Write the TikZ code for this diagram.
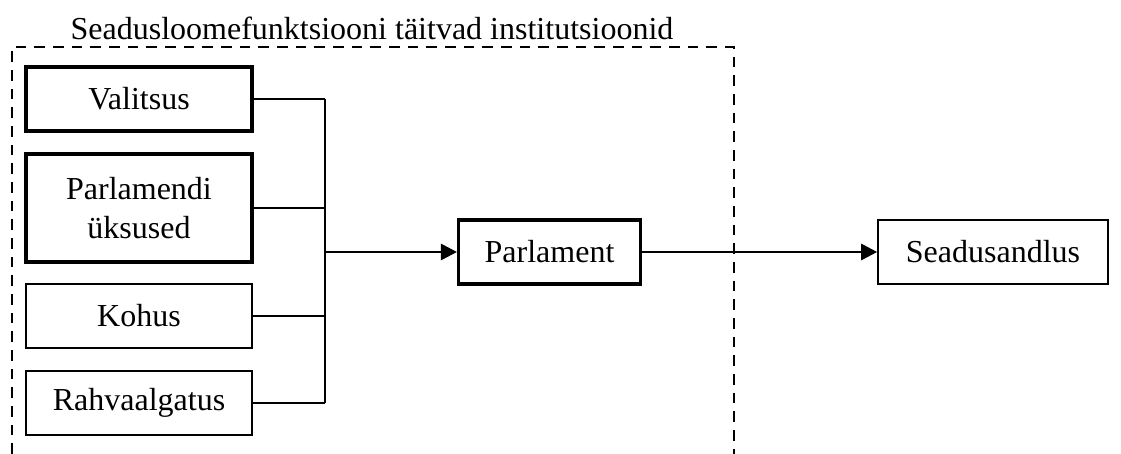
\documentclass[tikz,border=0pt]{standalone}
\usepackage{fontspec}
\setmainfont{Liberation Serif}
\usepackage{tikz}
\usetikzlibrary{arrows.meta}
\tikzstyle{box} = [draw, line width=0.6pt, minimum width=84.75pt, minimum height=24pt, inner sep=0pt, align=center, font=\fontsize{12}{14.5}\selectfont]
\tikzstyle{boldbox} = [box, line width=1.15pt]
\tikzstyle{link} = [line width=0.4pt]
\tikzstyle{arrow} = [line width=1pt, -{Triangle[length=6pt,width=6pt]}]

\begin{document}
\begin{tikzpicture}[x=0.375pt, y=-0.375pt]
\useasboundingbox (0,0) rectangle (1121,454);
% dashed frame round the institutions
\draw[line width=0.85pt, dash pattern=on 4pt off 3pt] (12,454) -- (12,47) -- (734,47) -- (734,454);
\node[anchor=base, font=\fontsize{12}{14.5}\selectfont] (title) at (372,40) {Seadusloomefunktsiooni täitvad institutsioonid};
\node[boldbox] (valitsus) at (139,99) {Valitsus};
\node[boldbox, minimum height=40.5pt] (uksused) at (139,208) {Parlamendi\\üksused};
\node[box] (kohus) at (139,316) {Kohus};
\node[box] (rahva) at (139,403) {Rahvaalgatus};
\node[boldbox, minimum width=68.25pt] (parlament) at (549.5,252) {Parlament};
\node[box, minimum width=86.25pt] (seadus) at (993,252) {Seadusandlus};
\coordinate (bus) at (325,252);
% collecting lines
\draw[link] (valitsus.east) -- (valitsus.east -| bus);
\draw[link] (uksused.east) -- (uksused.east -| bus);
\draw[link] (kohus.east) -- (kohus.east -| bus);
\draw[link] (rahva.east) -- (rahva.east -| bus);
\draw[link] (valitsus.east -| bus) -- (rahva.east -| bus);
\draw[arrow] (bus) -- (parlament.west);
\draw[arrow] (parlament.east) -- (seadus.west);
\end{tikzpicture}
\end{document}
